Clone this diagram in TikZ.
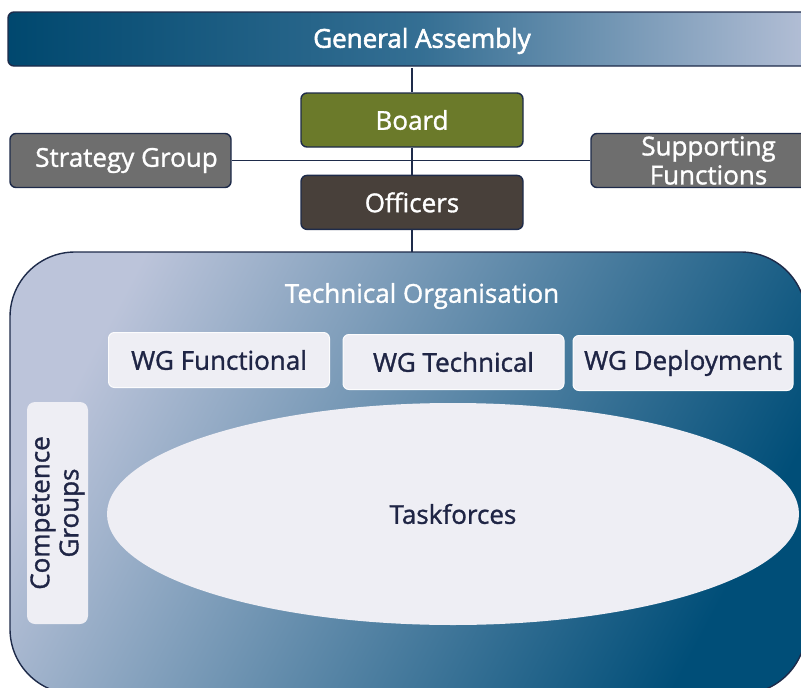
\documentclass[tikz,border=0pt]{standalone}
\usepackage{fontspec}
\setmainfont{Open Sans}[BoldFont={Open Sans},BoldFeatures={FakeBold=1.2}]
\newfontfamily\heavyfont{Open Sans}[FakeBold=2.2]
\usepackage{tikz}
\usetikzlibrary{positioning,shapes.geometric}
\definecolor{orgNavy}{HTML}{1E2B4A}
\definecolor{orgDeep}{HTML}{004E78}
\definecolor{orgPale}{HTML}{BCC4DA}
\definecolor{orgOlive}{HTML}{6B7A2A}
\definecolor{orgBrown}{HTML}{48403A}
\definecolor{orgGrey}{HTML}{6E6E6E}
\definecolor{orgSoft}{HTML}{EEEEF4}
\definecolor{orgInk}{HTML}{1F2545}
\tikzset{
  headbox/.style={rectangle,draw=orgNavy,line width=1.4pt,rounded corners=6pt,
    minimum width=222pt,minimum height=54pt,inner sep=0pt,align=center,
    text=white,font=\bfseries\fontsize{26}{29}\selectfont},
  wgbox/.style={rectangle,fill=orgSoft,draw=white!85!orgSoft,line width=1pt,rounded corners=6pt,
    minimum width=221pt,minimum height=55pt,inner sep=0pt,align=center,
    text=orgInk,font=\bfseries\fontsize{26}{29}\selectfont},
  link/.style={draw=orgNavy,line width=1.5pt}
}

\begin{document}
\begin{tikzpicture}[x=1pt,y=-1pt,node distance=27pt]
  \useasboundingbox (0,0) rectangle (801,688);
  % frame of the technical organisation
  \shade[top color=orgPale,bottom color=orgDeep,shading angle=62,
    draw=orgNavy,line width=1.4pt,rounded corners=65pt]
    (10,252) rectangle (806,694);
  \node[inner sep=0pt,minimum width=796pt,minimum height=442pt] (org) at (408,473) {};
  \node[text=white,font=\bfseries\fontsize{26}{29}\selectfont] (orgtitle) at (422,296) {Technical Organisation};
  % general assembly bar
  \shade[left color=orgDeep!92!black,right color=orgPale,middle color=orgDeep!72!orgPale,
    draw=orgNavy,line width=1.4pt,rounded corners=6pt]
    (8,12) rectangle (836,66);
  \node[inner sep=0pt,minimum width=828pt,minimum height=54pt,text=white,
    font=\heavyfont\fontsize{26}{29}\selectfont] (ga) at (422,41) {General Assembly};
  % management
  \node[headbox,fill=orgOlive] (board) at (412,120) {Board};
  \node[headbox,fill=orgBrown,below=of board] (officers) {Officers};
  \node[headbox,fill=orgGrey,minimum width=221pt] (strategy) at (120.5,160.5) {\hspace*{12pt}Strategy Group};
  \node[headbox,fill=orgGrey,minimum width=235pt] (support) at (708.5,160.5) {Supporting\\Functions};
  \draw[link] (ga.south -| board) -- (board);
  \draw[link] (board) -- (officers);
  \draw[link] (officers) -- (org.north -| officers);
  \draw[link] (strategy) -- (support);
  % working groups
  \node[wgbox] (wgfun) at (219,360) {WG Functional};
  \node[wgbox] (wgtec) at (453.5,362) {WG Technical};
  \node[wgbox,minimum width=220pt] (wgdep) at (683,363) {WG Deployment};
  \node[rectangle,fill=orgSoft,rounded corners=8pt,minimum width=222pt,minimum height=61pt,
    inner sep=0pt,align=center,text=orgInk,rotate=90,
    font=\bfseries\fontsize{26}{29}\selectfont] (comp) at (57.5,513) {Competence\\Groups};
  \node[ellipse,fill=orgSoft,minimum width=692pt,minimum height=222pt,inner sep=0pt,
    text=orgInk,font=\bfseries\fontsize{26}{29}\selectfont] (task) at (453,514) {Taskforces};
\end{tikzpicture}
\end{document}
